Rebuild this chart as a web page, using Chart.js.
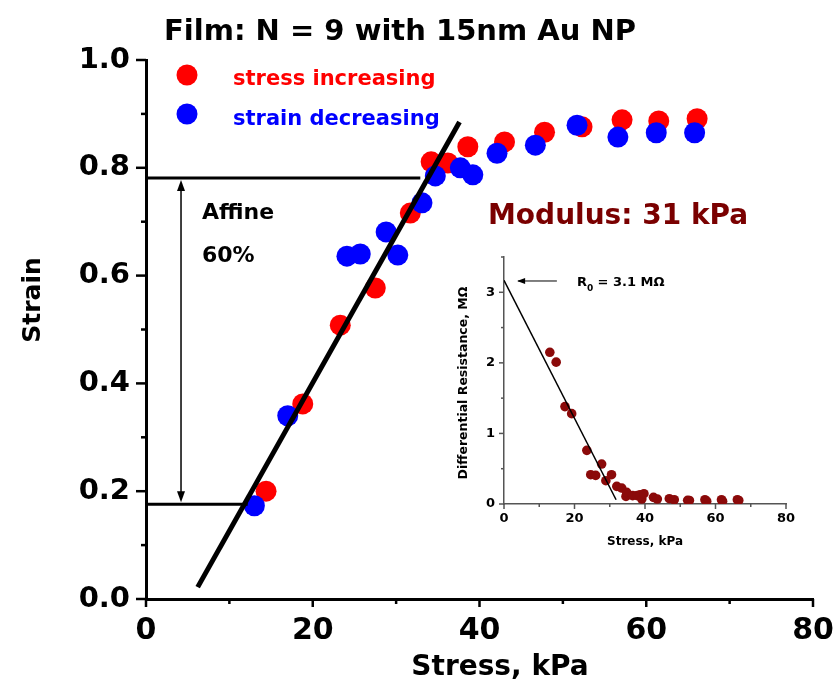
<!DOCTYPE html>
<html>
<head>
<meta charset="utf-8">
<script src="https://cdn.jsdelivr.net/npm/chart.js@4.4.0/dist/chart.umd.min.js"></script>
<style>
html, body { margin:0; padding:0; background:#fff; }
#wrap { position:relative; width:833px; height:690px; }
#mainChart { position:absolute; left:0; top:0; }
#insetChart { position:absolute; left:440px; top:250px; }
</style>
</head>
<body>
<div id="wrap">
<canvas id="mainChart" width="833" height="690"></canvas>
<canvas id="insetChart" width="380" height="310"></canvas>
</div>
<script>
// main plot data (stress kPa / strain)
const stressUp = [14.4, 18.8, 23.3, 27.5, 31.7, 34.2, 36.2, 38.6, 43.0, 47.8, 52.3, 57.1, 61.5, 66.1];
const strainUp = [0.200, 0.362, 0.508, 0.577, 0.716, 0.811, 0.809, 0.839, 0.848, 0.866, 0.876, 0.889, 0.887, 0.891];
const stressDown = [13.0, 17.0, 24.1, 25.7, 28.8, 30.2, 33.1, 34.7, 37.7, 39.2, 42.1, 46.7, 51.7, 56.6, 61.2, 65.8];
const strainDown = [0.173, 0.340, 0.636, 0.640, 0.681, 0.638, 0.735, 0.785, 0.800, 0.787, 0.827, 0.842, 0.879, 0.857, 0.865, 0.865];
const fitStress = [6.2, 37.6];
const fitStrain = [0.022, 0.885];
const affineTop = 0.781, affineBottom = 0.176;
const affineTopEnd = 32.9, affineBottomEnd = 12.2;
const arrowStress = 4.2;
const xTickLabels = [0, 20, 40, 60, 80];
const yTickLabels = [0.0, 0.2, 0.4, 0.6, 0.8, 1.0];

// inset data (stress kPa / differential resistance MOhm)
const insetStress = [13.0, 14.8, 17.3, 19.2, 23.5, 24.6, 26.0, 27.7, 28.9, 30.5, 32.0, 33.4, 34.6, 34.8, 36.5, 37.8, 38.6, 39.1, 39.7, 42.4, 43.5, 46.9, 48.3, 52.1, 52.6, 57.0, 57.5, 61.7, 62.0, 66.2, 66.6];
const insetRes = [2.15, 2.01, 1.38, 1.28, 0.76, 0.415, 0.405, 0.566, 0.33, 0.415, 0.25, 0.226, 0.108, 0.165, 0.118, 0.118, 0.132, 0.07, 0.146, 0.094, 0.07, 0.075, 0.06, 0.052, 0.05, 0.06, 0.04, 0.06, 0.04, 0.06, 0.05];
const insetFitStress = [0, 31.8];
const insetFitRes = [3.17, 0.06];
const insetYTickLabels = [0, 1, 2, 3];
const r0Arrow = [15.0, 4.0];
const r0Value = 3.16;

const FONT = '"DejaVu Sans", sans-serif';
const pts = (xs, ys) => xs.map((x, i) => ({x: x, y: ys[i]}));

function drawLine(ctx, x1, y1, x2, y2) {
    ctx.beginPath(); ctx.moveTo(x1, y1); ctx.lineTo(x2, y2); ctx.stroke();
}

function noPad(s) {
    s.paddingLeft = 0; s.paddingRight = 0; s.paddingTop = 0; s.paddingBottom = 0;
}

const mainDecor = {
    id: 'mainDecor',
    afterDraw(chart) {
        let ctx = chart.ctx;
        let xs = chart.scales.x, ys = chart.scales.y;
        ctx.save();
        ctx.strokeStyle = '#000';
        ctx.lineWidth = 2.5;
        for (let v = 0; v <= 80; v += 10) {
            let px = xs.getPixelForValue(v);
            drawLine(ctx, px, ys.bottom, px, ys.bottom + (v % 20 === 0 ? 8 : 5));
        }
        for (let i = 0; i <= 10; i++) {
            let py = ys.getPixelForValue(i / 10);
            drawLine(ctx, xs.left, py, xs.left - (i % 2 === 0 ? 10 : 5), py);
        }
        // arrow heads
        let ax = xs.getPixelForValue(arrowStress);
        let ty = ys.getPixelForValue(affineTop) + 2;
        let by = ys.getPixelForValue(affineBottom) - 2;
        ctx.fillStyle = '#000';
        ctx.beginPath(); ctx.moveTo(ax, ty); ctx.lineTo(ax - 4, ty + 11); ctx.lineTo(ax + 4, ty + 11); ctx.closePath(); ctx.fill();
        ctx.beginPath(); ctx.moveTo(ax, by); ctx.lineTo(ax - 4, by - 11); ctx.lineTo(ax + 4, by - 11); ctx.closePath(); ctx.fill();

        // title
        ctx.fillStyle = '#000';
        ctx.textAlign = 'center';
        ctx.textBaseline = 'alphabetic';
        ctx.font = 'bold 29px ' + FONT;
        ctx.fillText('Film: N = 9 with 15nm Au NP', 400, 40);

        // legend
        ctx.fillStyle = '#ff0000';
        ctx.beginPath(); ctx.arc(187, 75, 10.5, 0, Math.PI * 2); ctx.fill();
        ctx.fillStyle = '#0000ff';
        ctx.beginPath(); ctx.arc(187, 114, 10.5, 0, Math.PI * 2); ctx.fill();
        ctx.textAlign = 'left';
        ctx.font = 'bold 21px ' + FONT;
        ctx.fillStyle = '#ff0000';
        ctx.fillText('stress increasing', 233, 85);
        ctx.fillStyle = '#0000ff';
        ctx.fillText('strain decreasing', 233, 125);

        // annotations
        ctx.fillStyle = '#000';
        ctx.font = 'bold 22px ' + FONT;
        ctx.fillText('Affine', 202, 219);
        ctx.fillText('60%', 202, 262);
        ctx.fillStyle = '#7a0000';
        ctx.font = 'bold 28px ' + FONT;
        ctx.fillText('Modulus: 31 kPa', 488, 224);

        // axis titles
        ctx.fillStyle = '#000';
        ctx.textAlign = 'center';
        ctx.font = 'bold 28px ' + FONT;
        ctx.fillText('Stress, kPa', 500, 675);
        ctx.translate(40, 300);
        ctx.rotate(-Math.PI / 2);
        ctx.font = 'bold 25px ' + FONT;
        ctx.fillText('Strain', 0, 0);
        ctx.restore();
    }
};

const insetDecor = {
    id: 'insetDecor',
    afterDraw(chart) {
        let ctx = chart.ctx;
        let xs = chart.scales.x, ys = chart.scales.y;
        ctx.save();
        ctx.strokeStyle = '#555';
        ctx.lineWidth = 1.5;
        for (let v = 0; v <= 80; v += 10) {
            let px = xs.getPixelForValue(v);
            drawLine(ctx, px, ys.bottom, px, ys.bottom + (v % 20 === 0 ? 5 : 3));
        }
        for (let i = 0; i <= 7; i++) {
            let py = ys.getPixelForValue(i / 2);
            drawLine(ctx, xs.left, py, xs.left - (i % 2 === 0 ? 5 : 3), py);
        }
        // arrow head for R0
        let ax = xs.getPixelForValue(r0Arrow[1]);
        let ay = ys.getPixelForValue(r0Value);
        ctx.fillStyle = '#000';
        ctx.beginPath(); ctx.moveTo(ax - 1, ay); ctx.lineTo(ax + 7, ay - 3); ctx.lineTo(ax + 7, ay + 3); ctx.closePath(); ctx.fill();

        ctx.fillStyle = '#000';
        ctx.textBaseline = 'alphabetic';
        ctx.textAlign = 'left';
        ctx.font = 'bold 13px ' + FONT;
        ctx.fillText('R', 137, 36);
        ctx.font = 'bold 9px ' + FONT;
        ctx.fillText('0', 147, 41);
        ctx.font = 'bold 13px ' + FONT;
        ctx.fillText(' = 3.1 M\u03A9', 153, 36);

        ctx.textAlign = 'center';
        ctx.font = 'bold 12px ' + FONT;
        ctx.fillText('Stress, kPa', 205, 295);
        ctx.translate(27, 133);
        ctx.rotate(-Math.PI / 2);
        ctx.font = 'bold 12.5px ' + FONT;
        ctx.fillText('Differential Resistance, M\u03A9', 0, 0);
        ctx.restore();
    }
};

function createMainChart() {
    let ctx = document.getElementById('mainChart');
    let data = {
        datasets: [
            {
                label: 'fit',
                data: pts(fitStress, fitStrain),
                showLine: true,
                borderColor: '#000',
                borderWidth: 5,
                pointRadius: 0,
                order: 0
            },
            {
                label: 'affine top',
                data: pts([0, affineTopEnd], [affineTop, affineTop]),
                showLine: true,
                borderColor: '#000',
                borderWidth: 3,
                pointRadius: 0,
                order: 0
            },
            {
                label: 'affine bottom',
                data: pts([0, affineBottomEnd], [affineBottom, affineBottom]),
                showLine: true,
                borderColor: '#000',
                borderWidth: 3,
                pointRadius: 0,
                order: 0
            },
            {
                label: 'affine arrow',
                data: pts([arrowStress, arrowStress], [affineBottom + 0.02, affineTop - 0.02]),
                showLine: true,
                borderColor: '#000',
                borderWidth: 1.5,
                pointRadius: 0,
                order: 0
            },
            {
                label: 'strain decreasing',
                data: pts(stressDown, strainDown),
                backgroundColor: '#0000ff',
                borderWidth: 0,
                pointRadius: 10.5,
                order: 1
            },
            {
                label: 'stress increasing',
                data: pts(stressUp, strainUp),
                backgroundColor: '#ff0000',
                borderWidth: 0,
                pointRadius: 10.5,
                order: 2
            }
        ]
    };
    let config = {
        type: 'scatter',
        data: data,
        options: {
            responsive: false,
            animation: false,
            layout: { padding: { top: 60, right: 20, left: 0, bottom: 0 } },
            plugins: { legend: { display: false }, tooltip: { enabled: false }, title: { display: false } },
            scales: {
                x: {
                    type: 'linear', min: 0, max: 80,
                    afterFit: s => { s.height = 91; noPad(s); },
                    afterBuildTicks: s => { s.ticks = xTickLabels.map(v => ({value: v})); },
                    grid: { display: false, drawTicks: false },
                    border: { display: true, color: '#000', width: 3 },
                    ticks: { color: '#000', padding: 14, maxRotation: 0, font: { family: FONT, size: 30, weight: 'bold' } }
                },
                y: {
                    type: 'linear', min: 0, max: 1,
                    afterFit: s => { s.width = 146; noPad(s); },
                    afterBuildTicks: s => { s.ticks = yTickLabels.map(v => ({value: v})); },
                    grid: { display: false, drawTicks: false },
                    border: { display: true, color: '#000', width: 3 },
                    ticks: { color: '#000', padding: 16, font: { family: FONT, size: 29, weight: 'bold' },
                        callback: v => v.toFixed(1) }
                }
            }
        },
        plugins: [mainDecor]
    };
    new Chart(ctx, config);
}

function createInsetChart() {
    let ctx = document.getElementById('insetChart');
    let config = {
        type: 'scatter',
        data: {
            datasets: [
                {
                    label: 'fit',
                    data: pts(insetFitStress, insetFitRes),
                    showLine: true,
                    borderColor: '#000',
                    borderWidth: 1.5,
                    pointRadius: 0,
                    order: 0
                },
                {
                    label: 'R0 arrow',
                    data: pts(r0Arrow, [r0Value, r0Value]),
                    showLine: true,
                    borderColor: '#000',
                    borderWidth: 1,
                    pointRadius: 0,
                    order: 0
                },
                {
                    label: 'resistance',
                    data: pts(insetStress, insetRes),
                    backgroundColor: '#8b0a0a',
                    borderWidth: 0,
                    pointRadius: 4.8,
                    order: 1
                }
            ]
        },
        options: {
            responsive: false,
            animation: false,
            layout: { padding: { top: 7, right: 34, left: 0, bottom: 0 } },
            plugins: { legend: { display: false }, tooltip: { enabled: false } },
            scales: {
                x: {
                    type: 'linear', min: 0, max: 80,
                    afterFit: s => { s.height = 56; noPad(s); },
                    afterBuildTicks: s => { s.ticks = xTickLabels.map(v => ({value: v})); },
                    grid: { display: false, drawTicks: false },
                    border: { display: true, color: '#555', width: 1.5 },
                    ticks: { color: '#000', padding: 7, maxRotation: 0, font: { family: FONT, size: 13, weight: 'bold' } }
                },
                y: {
                    type: 'linear', min: 0, max: 3.5,
                    afterFit: s => { s.width = 64; noPad(s); },
                    afterBuildTicks: s => { s.ticks = insetYTickLabels.map(v => ({value: v})); },
                    grid: { display: false, drawTicks: false },
                    border: { display: true, color: '#555', width: 1.5 },
                    ticks: { color: '#000', padding: 9, font: { family: FONT, size: 13, weight: 'bold' } }
                }
            }
        },
        plugins: [insetDecor]
    };
    new Chart(ctx, config);
}

createMainChart();
createInsetChart();
</script>
</body>
</html>
